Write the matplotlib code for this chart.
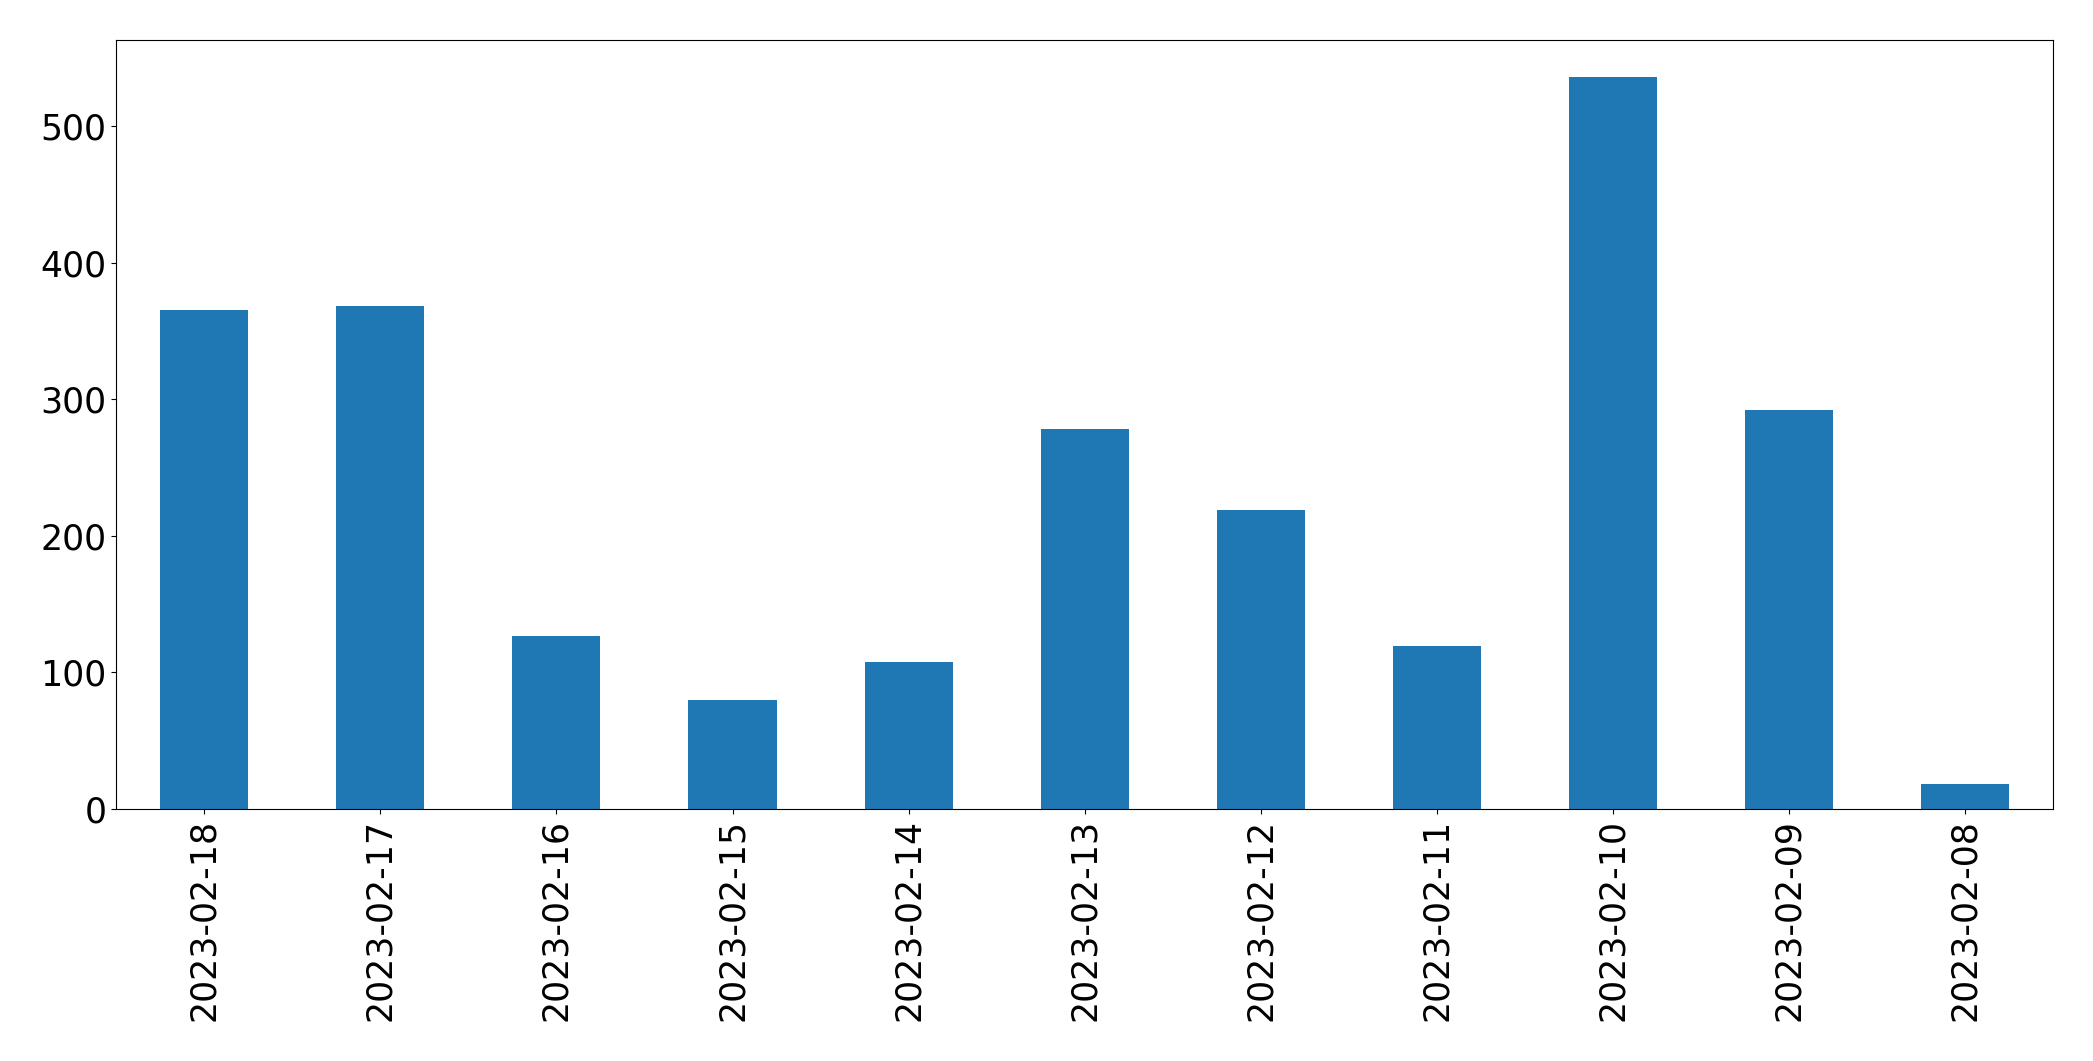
import matplotlib
matplotlib.use("Agg")
import matplotlib.pyplot as plt
import numpy as np

dates = ['2023-02-18', '2023-02-17', '2023-02-16', '2023-02-15', '2023-02-14',
         '2023-02-13', '2023-02-12', '2023-02-11', '2023-02-10', '2023-02-09',
         '2023-02-08']
counts = [365, 368, 127, 80, 108, 278, 219, 119, 536, 292, 18]

fig, ax = plt.subplots(figsize=(20.93, 10.61), dpi=100)
fig.subplots_adjust(left=0.0555, right=0.981, top=0.962, bottom=0.2375)

x = np.arange(len(dates))
ax.bar(x, counts, width=0.5, color='#1f77b4')
ax.set_xlim(-0.5, len(dates) - 0.5)
ax.set_xticks(x)
ax.set_xticklabels(dates, rotation=90)
ax.tick_params(axis='both', labelsize=25)

fig.savefig('out.png', dpi=100)
